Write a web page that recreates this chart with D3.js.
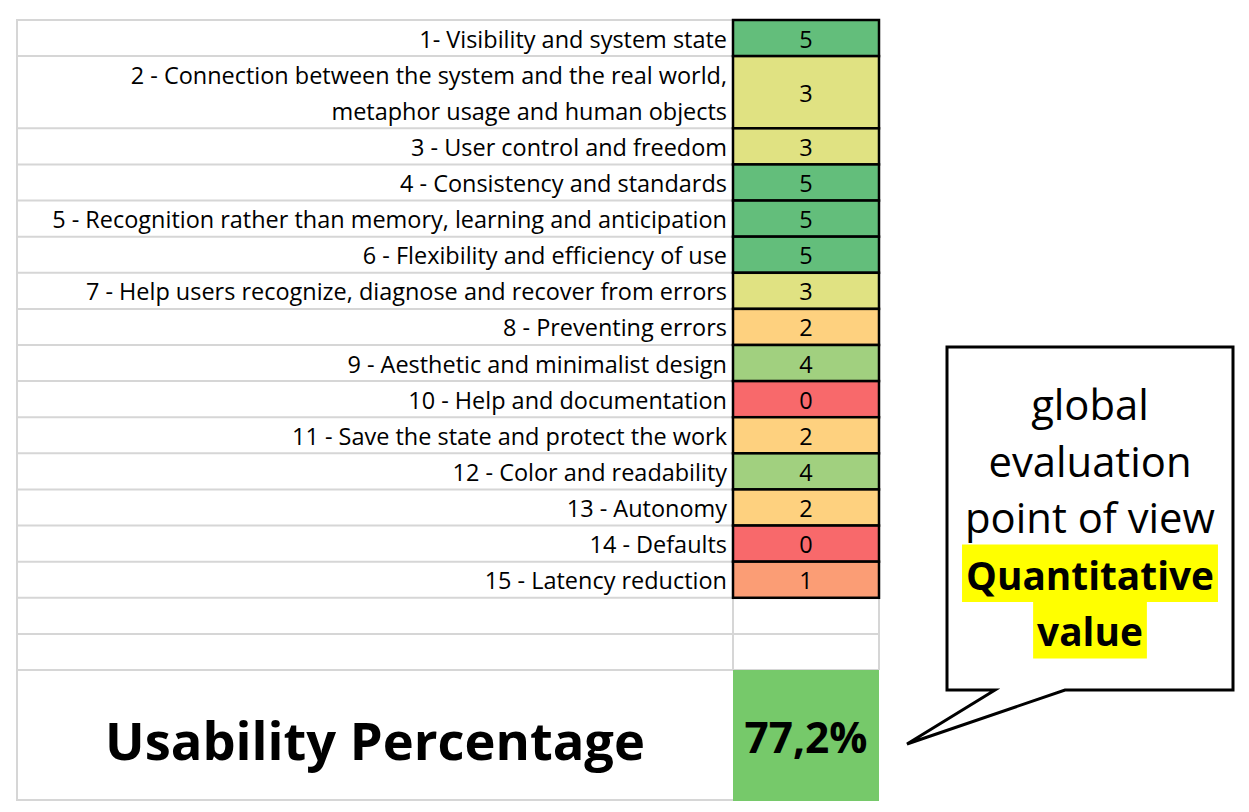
<!DOCTYPE html>
<html>
<head>
<meta charset="utf-8">
<script src="https://cdn.jsdelivr.net/npm/d3@7"></script>
<style>
  html, body { margin: 0; padding: 0; background: #fff; }
  svg { display: block; }
</style>
</head>
<body>
<svg id="chart" width="1249" height="812"></svg>
<script>
// ---------- data ----------
const criteria = [
  ["1- Visibility and system state"],
  ["2 - Connection between the system and the real world,", "metaphor usage and human objects"],
  ["3 - User control and freedom"],
  ["4 - Consistency and standards"],
  ["5 - Recognition rather than memory, learning and anticipation"],
  ["6 - Flexibility and efficiency of use"],
  ["7 - Help users recognize, diagnose and recover from errors"],
  ["8 - Preventing errors"],
  ["9 - Aesthetic and minimalist design"],
  ["10 - Help and documentation"],
  ["11 - Save the state and protect the work"],
  ["12 - Color and readability"],
  ["13 - Autonomy"],
  ["14 - Defaults"],
  ["15 - Latency reduction"]
];
const scores = [5, 3, 3, 5, 5, 5, 3, 2, 4, 0, 2, 4, 2, 0, 1];
const emptyRows = 2;
const totalLabel = "Usability Percentage";
const totalValue = "77,2%";
const calloutLines = ["global", "evaluation", "point of view"];
const calloutHighlight = ["Quantitative", "value"];

// ---------- layout ----------
const FONT = "'Open Sans', sans-serif";
const tableLeft = 17, labelRight = 733, valueRight = 879;
const totalRowUnits = 3.6;
const units = d3.sum(criteria, d => d.length) + emptyRows + totalRowUnits;
const y = d3.scaleLinear().domain([0, units]).range([20, 800]);
const color = d3.scaleLinear().domain([0, 2.5, 5])
  .range(["#f8696b", "#ffeb84", "#63be7b"]).interpolate(d3.interpolateRgb);

const svg = d3.select("#chart");

// font size that makes a text reach a given width
function fitSize(text, weight, width) {
  const t = svg.append("text").attr("font-family", FONT).attr("font-weight", weight)
    .attr("font-size", 100).text(text);
  const w = t.node().getComputedTextLength();
  t.remove();
  return 100 * width / w;
}
const labelSize = fitSize(criteria[4][0], "normal", 675);
const totalSize = fitSize(totalLabel, "bold", 540);
const valueSize = fitSize(totalValue, "bold", 123);
const calloutSize = fitSize(calloutLines[2], "normal", 250);
const calloutBoldSize = fitSize(calloutHighlight[0], "bold", 248);

// row positions in units
let acc = 0;
const rows = criteria.map((lines, i) => {
  const r = { lines, score: scores[i], u0: acc, u1: acc + lines.length };
  acc += lines.length;
  return r;
});
const empties = d3.range(emptyRows).map(i => ({ u0: acc + i, u1: acc + i + 1 }));
const totalU0 = acc + emptyRows;

const grid = svg.append("g").attr("stroke", "#d6d6d6").attr("stroke-width", 2).attr("fill", "none");
const hLines = [0].concat(rows.map(r => r.u1), empties.map(r => r.u1));
grid.selectAll("line.h").data(hLines).join("line")
  .attr("x1", tableLeft).attr("x2", labelRight)
  .attr("y1", d => y(d)).attr("y2", d => y(d));
grid.selectAll("line.e").data(empties.map(r => r.u1)).join("line")
  .attr("x1", labelRight).attr("x2", valueRight)
  .attr("y1", d => y(d)).attr("y2", d => y(d));
grid.append("line").attr("x1", valueRight).attr("x2", valueRight)
  .attr("y1", y(rows[rows.length - 1].u1)).attr("y2", y(totalU0));
grid.append("line").attr("x1", labelRight).attr("x2", labelRight)
  .attr("y1", y(rows[rows.length - 1].u1)).attr("y2", y(totalU0));
grid.append("line").attr("x1", tableLeft).attr("x2", tableLeft).attr("y1", y(0) - 1).attr("y2", y(units) + 1);
grid.append("line").attr("x1", tableLeft).attr("x2", labelRight).attr("y1", y(units)).attr("y2", y(units));

// labels
const lab = svg.append("g").attr("font-family", FONT).attr("font-size", labelSize).attr("fill", "#000").attr("text-anchor", "end");
rows.forEach(r => {
  r.lines.forEach((t, j) => {
    lab.append("text").attr("x", labelRight - 6).attr("y", y(r.u0 + j) + 27.5).text(t);
  });
});

// value cells
const cells = svg.append("g");
cells.selectAll("rect").data(rows).join("rect")
  .attr("x", labelRight).attr("width", valueRight - labelRight)
  .attr("y", d => y(d.u0)).attr("height", d => y(d.u1) - y(d.u0))
  .attr("fill", d => color(d.score))
  .attr("stroke", "#000").attr("stroke-width", 2.5);
cells.selectAll("text").data(rows).join("text")
  .attr("x", (labelRight + valueRight) / 2)
  .attr("y", d => (y(d.u0) + y(d.u1)) / 2 + 9.5)
  .attr("text-anchor", "middle").attr("font-family", FONT).attr("font-size", labelSize)
  .text(d => d.score);

// total row
svg.append("rect").attr("x", labelRight).attr("width", valueRight - labelRight)
  .attr("y", y(totalU0)).attr("height", y(units) - y(totalU0) + 1).attr("fill", "#76c96a");
svg.append("text").attr("x", (labelRight + valueRight) / 2).attr("y", 753)
  .attr("text-anchor", "middle").attr("font-family", FONT).attr("font-weight", "bold").attr("font-size", valueSize)
  .text(totalValue);
svg.append("text").attr("x", 375).attr("y", 760)
  .attr("text-anchor", "middle").attr("font-family", FONT).attr("font-weight", "bold").attr("font-size", totalSize)
  .text(totalLabel);

// callout
const co = svg.append("g");
co.append("path")
  .attr("d", "M947,347 L1233,347 L1233,690 L1065,690 L907,744 L995,690 L947,690 Z")
  .attr("fill", "#fff").attr("stroke", "#000").attr("stroke-width", 3).attr("stroke-linejoin", "miter");
const cx = 1090;
calloutLines.forEach((t, i) => {
  co.append("text").attr("x", cx).attr("y", 420 + i * 56.5)
    .attr("text-anchor", "middle").attr("font-family", FONT).attr("font-size", calloutSize).text(t);
});
calloutHighlight.forEach((t, i) => {
  const by = 420 + (calloutLines.length + i) * 56.5;
  const txt = co.append("text").attr("x", cx).attr("y", by)
    .attr("text-anchor", "middle").attr("font-family", FONT).attr("font-weight", "bold").attr("font-size", calloutBoldSize).text(t);
  const w = txt.node().getComputedTextLength();
  co.insert("rect", () => txt.node())
    .attr("x", cx - w / 2 - 4).attr("width", w + 8)
    .attr("y", by - 45).attr("height", 57.5).attr("fill", "#ffff00");
});
</script>
</body>
</html>
